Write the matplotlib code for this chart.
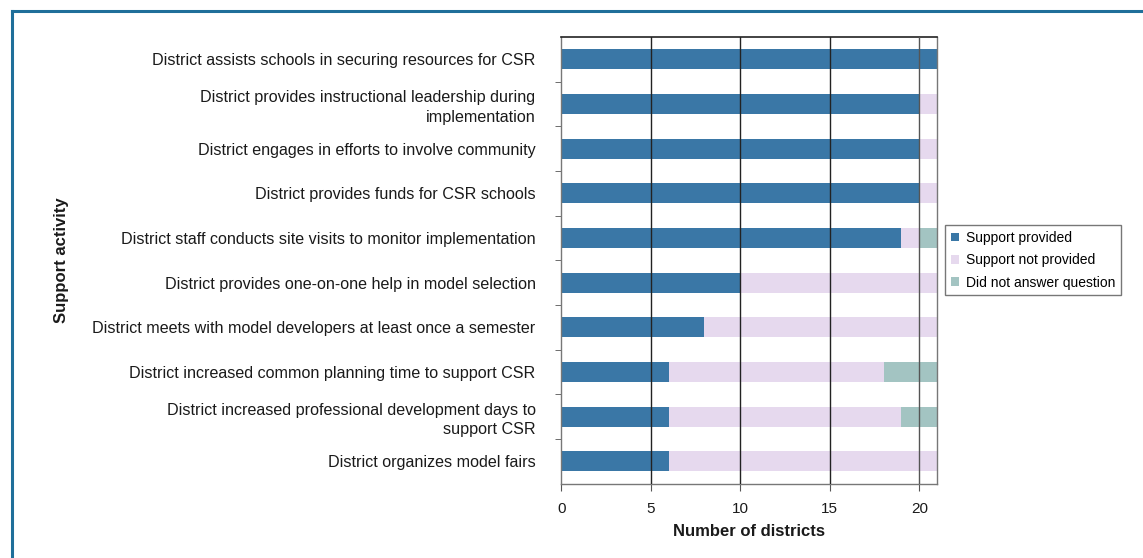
import matplotlib.pyplot as plt
from matplotlib.ticker import FixedLocator

plt.rcParams['font.family'] = ['Liberation Sans', 'DejaVu Sans']

activities = [
    "District assists schools in securing resources for CSR",
    "District provides instructional leadership during\nimplementation",
    "District engages in efforts to involve community",
    "District provides funds for CSR schools",
    "District staff conducts site visits to monitor implementation",
    "District provides one-on-one help in model selection",
    "District meets with model developers at least once a semester",
    "District increased common planning time to support CSR",
    "District increased professional development days to\nsupport CSR",
    "District organizes model fairs",
]
provided = [21, 20, 20, 20, 19, 10, 8, 6, 6, 6]
not_provided = [0, 1, 1, 1, 1, 11, 13, 12, 13, 15]
no_answer = [0, 0, 0, 0, 1, 0, 0, 3, 2, 0]

c_prov = "#3a77a6"
c_not = "#e6d9ee"
c_na = "#a3c4c2"

fig = plt.figure(figsize=(11.43, 5.58), dpi=100)
fig.patch.set_facecolor("white")

# frame lines along top and left edge
fig.add_artist(plt.Line2D([0.0105, 1.0], [0.980, 0.980], color="#1f6f9a", lw=2.2))
fig.add_artist(plt.Line2D([0.0105, 0.0105], [0.0, 0.980], color="#1f6f9a", lw=2.2))

ax = fig.add_axes([0.491, 0.133, 0.329, 0.801])

ys = list(range(len(activities)))
h = 0.45
ax.barh(ys, provided, height=h, color=c_prov, label="Support provided", zorder=1)
ax.barh(ys, not_provided, left=provided, height=h, color=c_not,
        label="Support not provided", zorder=1)
left2 = [a + b for a, b in zip(provided, not_provided)]
ax.barh(ys, no_answer, left=left2, height=h, color=c_na,
        label="Did not answer question", zorder=1)

ax.set_xlim(0, 21)
ax.set_ylim(len(activities) - 0.5, -0.5)
ax.set_xticks([0, 5, 10, 15, 20])
ax.set_yticks(ys)
ax.set_yticklabels(activities, fontsize=11.6, ha="right", linespacing=1.35,
                   color="#1a1a1a")
ax.yaxis.set_minor_locator(FixedLocator([i + 0.5 for i in range(len(activities) - 1)]))
ax.tick_params(axis="y", which="major", length=0, pad=18.5)
ax.tick_params(axis="y", which="minor", length=4, color="#555555")
ax.tick_params(axis="x", length=5, color="#555555", labelsize=11, pad=8,
               labelcolor="#1a1a1a")

for x in [5, 10, 15]:
    ax.axvline(x, color="#222222", lw=1.0, zorder=3)
ax.axvline(20, color="#555555", lw=1.0, zorder=3)

for s in ["left", "bottom", "right"]:
    ax.spines[s].set_color("#777777")
    ax.spines[s].set_linewidth(1.0)
ax.spines["top"].set_color("#222222")
ax.spines["top"].set_linewidth(1.2)

ax.set_xlabel("Number of districts", fontsize=12, fontweight="bold", labelpad=6,
              color="#1a1a1a")
ax.set_ylabel("Support activity", fontsize=12, fontweight="bold", color="#1a1a1a")
ax.yaxis.set_label_coords(-1.31, 0.5)

leg = ax.legend(loc="center left", bbox_to_anchor=(1.003, 0.5), fontsize=10,
                frameon=True, fancybox=False, edgecolor="#555555",
                handlelength=0.6, handleheight=0.6, handletextpad=0.5,
                borderpad=0.4, labelspacing=0.6)
leg.get_frame().set_linewidth(1.0)

fig.savefig("out.png", dpi=100)
